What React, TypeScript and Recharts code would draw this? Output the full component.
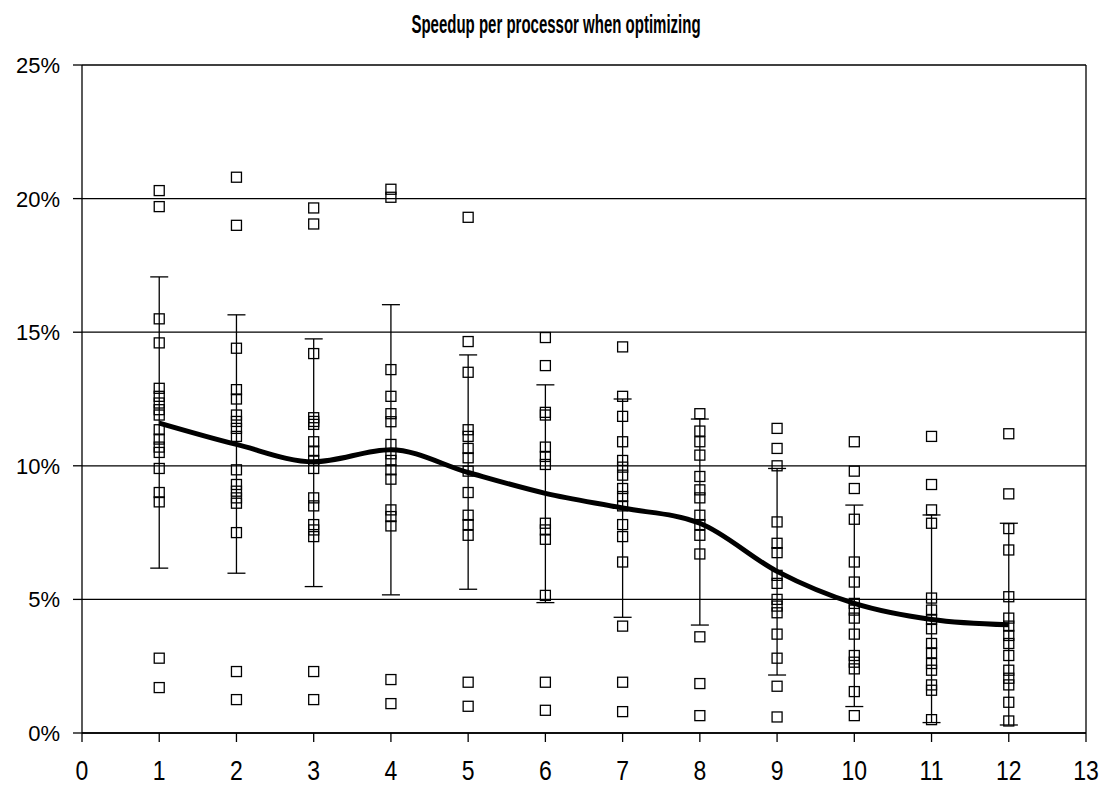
import {
  ComposedChart,
  Line,
  Scatter,
  ErrorBar,
  XAxis,
  YAxis,
  CartesianGrid,
  ReferenceLine,
} from 'recharts';

// processor counts on the x axis
const processors = [1, 2, 3, 4, 5, 6, 7, 8, 9, 10, 11, 12];

// individual speedup measurements (%) per processor count
const samples: number[][] = [
  [20.3, 19.7, 15.5, 14.6, 12.9, 12.6, 12.35, 12.1, 11.9, 11.35, 11.0, 10.7, 10.5, 9.9, 9.0, 8.65, 2.8, 1.7],
  [20.8, 19.0, 14.4, 12.85, 12.5, 11.9, 11.66, 11.4, 11.1, 9.85, 9.3, 9.05, 8.8, 8.6, 7.5, 2.3, 1.25],
  [19.65, 19.05, 14.2, 11.8, 11.66, 11.55, 10.9, 10.55, 10.2, 9.9, 8.8, 8.5, 7.8, 7.6, 7.35, 2.3, 1.25],
  [20.35, 20.05, 13.6, 12.6, 11.95, 11.65, 10.8, 10.45, 10.2, 9.85, 9.5, 8.35, 8.1, 7.75, 2.0, 1.1],
  [19.3, 14.65, 13.5, 11.35, 11.1, 10.65, 10.3, 9.8, 9.0, 8.15, 7.8, 7.4, 1.9, 1.0],
  [14.8, 13.75, 12.0, 11.9, 10.7, 10.35, 10.05, 7.85, 7.6, 7.25, 5.15, 1.9, 0.85],
  [14.45, 12.6, 11.85, 10.9, 10.2, 9.95, 9.65, 9.15, 8.85, 8.5, 7.8, 7.35, 6.4, 4.0, 1.9, 0.8],
  [11.95, 11.3, 10.9, 10.4, 9.6, 9.1, 8.8, 8.15, 7.8, 7.4, 6.7, 3.6, 1.85, 0.65],
  [11.4, 10.65, 10.0, 7.9, 7.1, 6.75, 5.9, 5.6, 5.0, 4.75, 4.5, 3.7, 2.8, 1.75, 0.6],
  [10.9, 9.8, 9.15, 8.0, 6.4, 5.65, 4.85, 4.6, 4.3, 3.7, 2.9, 2.65, 2.4, 1.55, 0.65],
  [11.1, 9.3, 8.35, 7.85, 5.05, 4.6, 4.25, 3.9, 3.35, 3.0, 2.6, 2.35, 1.8, 1.6, 0.5],
  [11.2, 8.95, 7.65, 6.85, 5.1, 4.3, 4.0, 3.65, 3.35, 2.9, 2.35, 2.05, 1.8, 1.15, 0.45],
];

// average speedup (%) and the ends of its error bar
const means = [11.6, 10.8, 10.15, 10.6, 9.75, 8.97, 8.42, 7.85, 6.05, 4.85, 4.25, 4.05];
const barTop = [17.07, 15.65, 14.75, 16.03, 14.15, 13.03, 12.5, 11.75, 9.9, 8.53, 8.16, 7.85];
const barBottom = [6.17, 5.98, 5.48, 5.17, 5.38, 4.88, 4.33, 4.04, 2.17, 0.99, 0.39, 0.3];

const xTicks = [0, 1, 2, 3, 4, 5, 6, 7, 8, 9, 10, 11, 12, 13];
const yTicks = [0, 5, 10, 15, 20, 25];

const meanData = processors.map((p, i) => ({
  x: p,
  mean: means[i],
  err: [means[i] - barBottom[i], barTop[i] - means[i]],
}));

const pointData = processors.flatMap((p, i) => samples[i].map((v) => ({ x: p, y: v })));

const FONT = '"Liberation Sans", Arial, sans-serif';

function XTick(props: any) {
  const { x, y, payload } = props;
  return (
    <text
      transform={`translate(${x},${y + 38}) scale(1,1.2)`}
      textAnchor="middle"
      fontFamily={FONT}
      fontSize={23}
      fill="#000"
    >
      {payload.value}
    </text>
  );
}

function YTick(props: any) {
  const { x, y, payload } = props;
  return (
    <text x={x} y={y + 8} textAnchor="end" fontFamily={FONT} fontSize={22} fill="#000">
      {`${payload.value}%`}
    </text>
  );
}

function SquareMarker(props: any) {
  const { cx, cy } = props;
  if (cx == null || cy == null) return null;
  return (
    <rect x={cx - 5} y={cy - 5} width={10} height={10} fill="none" stroke="#000" strokeWidth={1.3} />
  );
}

export default function App() {
  return (
    <div style={{ position: 'relative', width: 1101, height: 777, background: '#fff' }}>
      <div
        style={{
          position: 'absolute',
          top: 2,
          left: 0,
          width: 1096,
          textAlign: 'center',
          fontFamily: FONT,
          fontWeight: 'bold',
          fontSize: 15,
          lineHeight: '15px',
          color: '#000',
          transform: 'scale(1, 1.75)',
          transformOrigin: 'top',
        }}
      >
        Speedup per processor when optimizing
      </div>
      <ComposedChart
        width={1101}
        height={777}
        data={meanData}
        margin={{ top: 57, right: 23, left: 0, bottom: 0 }}
      >
        <CartesianGrid vertical={false} stroke="#000" strokeWidth={1.3} />
        <XAxis
          dataKey="x"
          type="number"
          domain={[0, 13]}
          ticks={xTicks}
          interval={0}
          tick={<XTick />}
          tickSize={9}
          tickMargin={0}
          height={52}
          stroke="#000"
          strokeWidth={1.3}
        />
        <YAxis
          type="number"
          domain={[0, 25]}
          ticks={yTicks}
          interval={0}
          tick={<YTick />}
          tickSize={9}
          tickMargin={13}
          width={74}
          stroke="#000"
          strokeWidth={1.3}
        />
        <ReferenceLine x={13} stroke="#000" strokeWidth={1.3} />
        <Scatter
          data={pointData}
          dataKey="y"
          shape={SquareMarker}
          isAnimationActive={false}
        />
        <Line
          dataKey="mean"
          type="monotone"
          stroke="#000"
          strokeWidth={5}
          dot={false}
          isAnimationActive={false}
        >
          <ErrorBar dataKey="err" direction="y" width={9} stroke="#000" strokeWidth={1.3} />
        </Line>
      </ComposedChart>
    </div>
  );
}
